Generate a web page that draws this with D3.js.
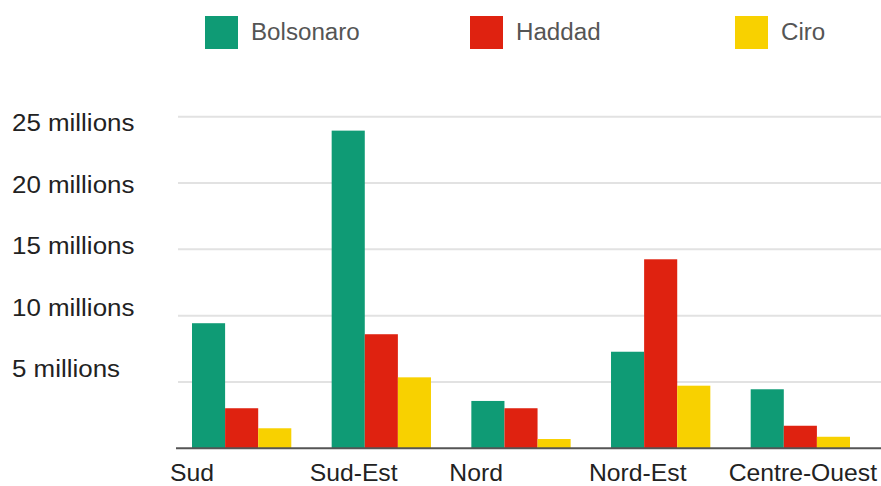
<!DOCTYPE html>
<html lang="fr">
<head>
<meta charset="UTF-8">
<title>Votes par région</title>
<script src="https://d3js.org/d3.v7.min.js"></script>
<style>
  html, body { margin: 0; padding: 0; background: #fff; }
  svg { display: block; font-family: "Liberation Sans", Arial, Helvetica, sans-serif; }
</style>
</head>
<body>
<svg id="chart" width="881" height="486"></svg>
<script>
// regions and votes (millions)
var regions = ["Sud", "Sud-Est", "Nord", "Nord-Est", "Centre-Ouest"];
var candidates = ["Bolsonaro", "Haddad", "Ciro"];
var colors = ["#0f9b75", "#df2210", "#f8d100"];
var bolsonaro = [9.43, 23.95, 3.57, 7.28, 4.45];
var haddad = [3.02, 8.60, 3.02, 14.25, 1.70];
var ciro = [1.51, 5.35, 0.70, 4.72, 0.87];
var yTicks = [5, 10, 15, 20, 25];
var yTickLabels = ["5 millions", "10 millions", "15 millions", "20 millions", "25 millions"];

var series = [bolsonaro, haddad, ciro];

var svg = d3.select("#chart");

var x = d3.scaleBand()
  .domain(regions)
  .range([192, 850])
  .paddingInner(0.289)
  .paddingOuter(0);

var xInner = d3.scaleBand()
  .domain(candidates)
  .range([0, x.bandwidth()])
  .padding(0);

var y = d3.scaleLinear()
  .domain([0, 25])
  .range([448.3, 116.7]);

// tick labels sit on their own slightly tighter spacing in the picture
var yLabel = d3.scaleLinear()
  .domain([5, 25])
  .range([377, 131]);

// gridlines
svg.append("g")
  .selectAll("line")
  .data(yTicks)
  .join("line")
    .attr("x1", 178)
    .attr("x2", 881)
    .attr("y1", function(d) { return y(d); })
    .attr("y2", function(d) { return y(d); })
    .attr("stroke", "#e2e2e2")
    .attr("stroke-width", 2);

// text in the picture is a little stretched sideways
svg.append("g")
  .selectAll("text")
  .data(yTicks)
  .join("text")
    .attr("transform", function(d) { return "translate(12," + yLabel(d) + ") scale(1.08,1)"; })
    .attr("font-size", 24)
    .attr("fill", "#222")
    .text(function(d, i) { return yTickLabels[i]; });

// bars
var groups = svg.append("g")
  .selectAll("g")
  .data(regions)
  .join("g")
    .attr("transform", function(d) { return "translate(" + x(d) + ",0)"; });

groups.selectAll("rect")
  .data(function(d, i) {
    return candidates.map(function(c, j) { return { c: c, v: series[j][i], k: j }; });
  })
  .join("rect")
    .attr("x", function(d) { return xInner(d.c); })
    .attr("width", xInner.bandwidth())
    .attr("y", function(d) { return y(d.v); })
    .attr("height", function(d) { return y(0) - y(d.v); })
    .attr("fill", function(d) { return colors[d.k]; });

// baseline
svg.append("line")
  .attr("x1", 176).attr("x2", 881)
  .attr("y1", y(0)).attr("y2", y(0))
  .attr("stroke", "#555")
  .attr("stroke-width", 2);

// x labels
svg.append("g")
  .selectAll("text")
  .data(regions)
  .join("text")
    .attr("transform", function(d) { return "translate(" + (x(d) - 22) + ",481) scale(1.03,1)"; })
    .attr("font-size", 24)
    .attr("fill", "#222")
    .text(function(d) { return d; });

// legend
var legend = d3.scaleLinear().domain([0, 2]).range([205, 735]);
var leg = svg.append("g")
  .selectAll("g")
  .data(candidates)
  .join("g")
    .attr("transform", function(d, i) { return "translate(" + legend(i) + ",16)"; });

leg.append("rect")
  .attr("width", 33)
  .attr("height", 33)
  .attr("fill", function(d, i) { return colors[i]; });

leg.append("text")
  .attr("transform", "translate(46,24) scale(1.05,1)")
  .attr("font-size", 23)
  .attr("fill", "#555")
  .text(function(d) { return d; });
</script>
</body>
</html>
